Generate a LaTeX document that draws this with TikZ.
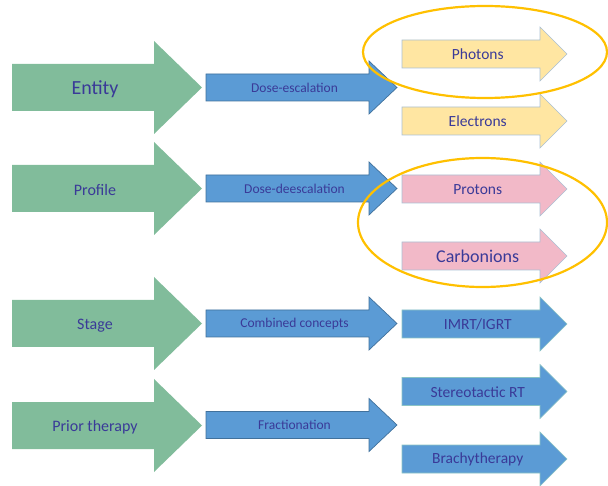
\documentclass[tikz,border=0pt]{standalone}
\usepackage{fontspec}
\setmainfont{Carlito}
\usetikzlibrary{shapes.geometric}
\definecolor{grn}{RGB}{129,188,155}
\definecolor{blu}{RGB}{91,155,213}
\definecolor{bluedge}{RGB}{65,113,156}
\definecolor{yel}{RGB}{255,230,162}
\definecolor{pnk}{RGB}{242,185,200}
\definecolor{lightedge}{RGB}{170,192,212}
\definecolor{tealedge}{RGB}{140,196,196}
\definecolor{txt}{RGB}{58,58,152}
\definecolor{ring}{RGB}{255,192,0}
\tikzset{textdrop/.initial=0pt}
\newcommand{\blockarrow}[9]{%
  \draw[#2] (#3,#6-#7) -- (#4,#6-#7) -- (#4,#6-#8) -- (#5,#6) -- (#4,#6+#8) -- (#4,#6+#7) -- (#3,#6+#7) -- cycle;
  \node[#2,draw=none,fill=none,text=txt,inner sep=0pt,yshift={-\pgfkeysvalueof{/tikz/textdrop}}] (#1) at ({(2*#3+#4+#5)/4},#6) {#9};}
\tikzset{
  garrow/.style={fill=grn,draw=none,font=\fontsize{16}{19}\selectfont,textdrop=2pt},
  marrow/.style={fill=blu,draw=bluedge,line width=0.7pt,font=\fontsize{13.5}{16}\selectfont},
  yarrow/.style={fill=yel,draw=lightedge,line width=0.6pt,font=\fontsize{15.5}{18}\selectfont,textdrop=0.5pt},
  parrow/.style={fill=pnk,draw=lightedge,line width=0.6pt,font=\fontsize{15.5}{18}\selectfont,textdrop=0.5pt},
  barrow/.style={fill=blu,draw=tealedge,line width=0.6pt,font=\fontsize{15.5}{18}\selectfont,textdrop=0.5pt},
  ringstyle/.style={ellipse,draw=ring,line width=2.2pt,inner sep=0pt},
}
\begin{document}
\begin{tikzpicture}[x=1pt,y=-1pt,line join=miter]
\useasboundingbox (0,0) rectangle (608,486);
% left column
\blockarrow{entity}{garrow,font=\fontsize{20}{24}\selectfont}{12}{154}{202}{87.5}{23.5}{46.5}{Entity}
\blockarrow{profile}{garrow}{12}{154}{202}{188.5}{23.5}{46.5}{Profile}
\blockarrow{stage}{garrow}{12}{154}{202}{323.5}{23.5}{46.5}{Stage}
\blockarrow{prior}{garrow}{12}{154}{202}{425.5}{23.5}{46.5}{Prior therapy}
% middle column
\blockarrow{esc}{marrow}{206}{369}{397}{87.5}{13.5}{26.5}{Dose-escalation}
\blockarrow{deesc}{marrow}{206}{369}{397}{188.5}{13.5}{26.5}{Dose-deescalation}
\blockarrow{comb}{marrow}{206}{369}{397}{323.5}{13.5}{26.5}{Combined concepts}
\blockarrow{frac}{marrow}{206}{369}{397}{425}{13.5}{26.5}{Fractionation}
% right column
\blockarrow{photons}{yarrow}{402}{540}{567}{54}{14}{27}{Photons}
\blockarrow{electrons}{yarrow}{402}{540}{567}{121}{14}{27}{Electrons}
\blockarrow{protons}{parrow}{402}{540}{567}{189}{14}{27}{Protons}
\blockarrow{carbon}{parrow,font=\fontsize{18}{21}\selectfont}{402}{540}{567}{256}{14}{27}{Carbonions}
\blockarrow{imrt}{barrow}{402}{540}{567}{324}{14}{27}{IMRT/IGRT}
\blockarrow{stereo}{barrow}{402}{540}{567}{391.5}{14}{27}{Stereotactic RT}
\blockarrow{brachy}{barrow}{402}{540}{567}{459}{14}{27}{Brachytherapy}
% highlight rings
\node[ringstyle,minimum width=244pt,minimum height=92pt] (ring1) at (485,52) {};
\node[ringstyle,minimum width=249pt,minimum height=129pt] (ring2) at (482.5,222.5) {};
\end{tikzpicture}
\end{document}
